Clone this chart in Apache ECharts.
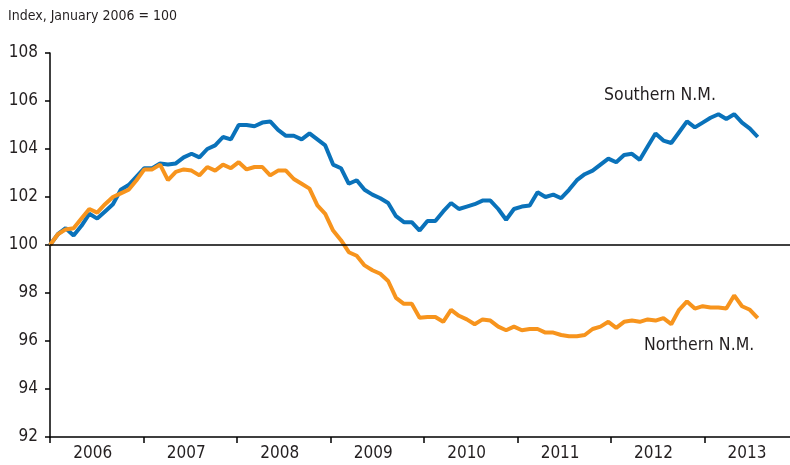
<!DOCTYPE html>
<html>
<head>
<meta charset="utf-8">
<script src="https://cdn.jsdelivr.net/npm/echarts@6/dist/echarts.min.js"></script>
<style>
  html, body { margin: 0; padding: 0; background: #fff; }
  #chart { width: 790px; height: 465px; }
</style>
</head>
<body>
<div id="chart"></div>
<script>
// monthly index, January 2006 = 100
var years = ["2006", "2007", "2008", "2009", "2010", "2011", "2012", "2013"];
var yTicks = [92, 94, 96, 98, 100, 102, 104, 106, 108];

var southern = [
  100.0, 100.45, 100.7, 100.4, 100.8, 101.3, 101.1, 101.4, 101.7, 102.3, 102.5, 102.85,
  103.2, 103.2, 103.4, 103.35, 103.4, 103.65, 103.8, 103.65, 104.0, 104.15, 104.5, 104.4,
  105.0, 105.0, 104.95, 105.1, 105.15, 104.8, 104.55, 104.55, 104.4, 104.65, 104.4, 104.15,
  103.35, 103.2, 102.55, 102.7, 102.3, 102.1, 101.95, 101.75, 101.2, 100.95, 100.95, 100.6,
  101.0, 101.0, 101.4, 101.75, 101.5, 101.6, 101.7, 101.85, 101.85, 101.5, 101.05, 101.5,
  101.6, 101.65, 102.2, 102.0, 102.1, 101.95, 102.3, 102.7, 102.95, 103.1, 103.35, 103.6,
  103.45, 103.75, 103.8, 103.55, 104.1, 104.65, 104.35, 104.25, 104.7, 105.15, 104.9, 105.1,
  105.3, 105.45, 105.25, 105.45, 105.1, 104.85, 104.5
];

var northern = [
  100.0, 100.45, 100.65, 100.7, 101.1, 101.5, 101.35, 101.7, 102.0, 102.15, 102.3, 102.7,
  103.15, 103.15, 103.35, 102.7, 103.05, 103.15, 103.1, 102.9, 103.25, 103.1, 103.35, 103.2,
  103.45, 103.15, 103.25, 103.25, 102.9, 103.1, 103.1, 102.75, 102.55, 102.35, 101.65, 101.3,
  100.6, 100.2, 99.7, 99.55, 99.15, 98.95, 98.8, 98.5, 97.8, 97.55, 97.55, 96.97,
  97.0, 97.0, 96.8, 97.3, 97.05, 96.9, 96.7, 96.9, 96.85, 96.6, 96.45, 96.6,
  96.45, 96.5, 96.5, 96.35, 96.35, 96.25, 96.2, 96.2, 96.25, 96.5, 96.6, 96.8,
  96.55, 96.8, 96.85, 96.8, 96.9, 96.85, 96.95, 96.7, 97.3, 97.65, 97.35, 97.45,
  97.4, 97.4, 97.35, 97.9, 97.45, 97.3, 96.95
];

// one category per month, Jan 2006 .. Dec 2013 (ticks and year labels)
var months = [];
years.forEach(function (y) {
  for (var m = 1; m <= 12; m++) months.push(y + "-" + (m < 10 ? "0" + m : m));
});

// series are placed on their own month-index axis
function pairs(arr) {
  return arr.map(function (v, i) { return [i, v]; });
}

var FONT = '"DejaVu Sans Condensed", "Liberation Sans Narrow", sans-serif';
var INK = "#231f20";

var chart = echarts.init(document.getElementById("chart"));
chart.setOption({
  backgroundColor: "#fff",
  animation: false,
  textStyle: { fontFamily: FONT },
  grid: { left: 50, right: 0, top: 53, bottom: 28, containLabel: false },
  graphic: [
    { type: "text", left: 8, top: 9,
      style: { text: "Index, January 2006 = 100", fontSize: 14, fontFamily: FONT, fill: INK } },
    { type: "text", left: 604, top: 86,
      style: { text: "Southern N.M.", fontSize: 17.5, fontFamily: FONT, fill: INK } },
    { type: "text", left: 644, top: 336,
      style: { text: "Northern N.M.", fontSize: 17.5, fontFamily: FONT, fill: INK } }
  ],
  xAxis: [
    {
      type: "category",
      data: months,
      boundaryGap: false,
      axisLine: { lineStyle: { color: "#000", width: 1.5 } },
      axisTick: {
        show: true, length: 6, inside: false,
        interval: function (i) { return i % 12 === 0; },
        lineStyle: { color: "#000", width: 1.5 }
      },
      axisLabel: {
        interval: function (i) { return i % 12 === 6; },
        formatter: function (v) { return v.slice(0, 4); },
        fontSize: 17, color: INK, margin: 8, padding: [0, 8, 0, 0]
      },
      splitLine: { show: false }
    },
    {
      type: "value",
      show: false,
      min: 0,
      max: 94.1
    }
  ],
  yAxis: {
    type: "value",
    min: yTicks[0],
    max: yTicks[yTicks.length - 1],
    interval: 2,
    axisLine: { show: true, lineStyle: { color: "#000", width: 1.5 } },
    axisTick: { show: true, length: 5, lineStyle: { color: "#000", width: 1.5 } },
    axisLabel: { fontSize: 17, color: INK, margin: 12 },
    splitLine: { show: false }
  },
  series: [
    {
      name: "Southern N.M.",
      type: "line",
      xAxisIndex: 1,
      data: pairs(southern),
      symbol: "none",
      lineStyle: { color: "#0a72ba", width: 4 },
      markLine: {
        silent: true, symbol: "none", label: { show: false },
        lineStyle: { color: "#000", width: 1.5, type: "solid" },
        data: [{ yAxis: 100 }]
      },
      z: 3
    },
    {
      name: "Northern N.M.",
      type: "line",
      xAxisIndex: 1,
      data: pairs(northern),
      symbol: "none",
      lineStyle: { color: "#f7941d", width: 4 },
      z: 4
    }
  ]
});
</script>
</body>
</html>
